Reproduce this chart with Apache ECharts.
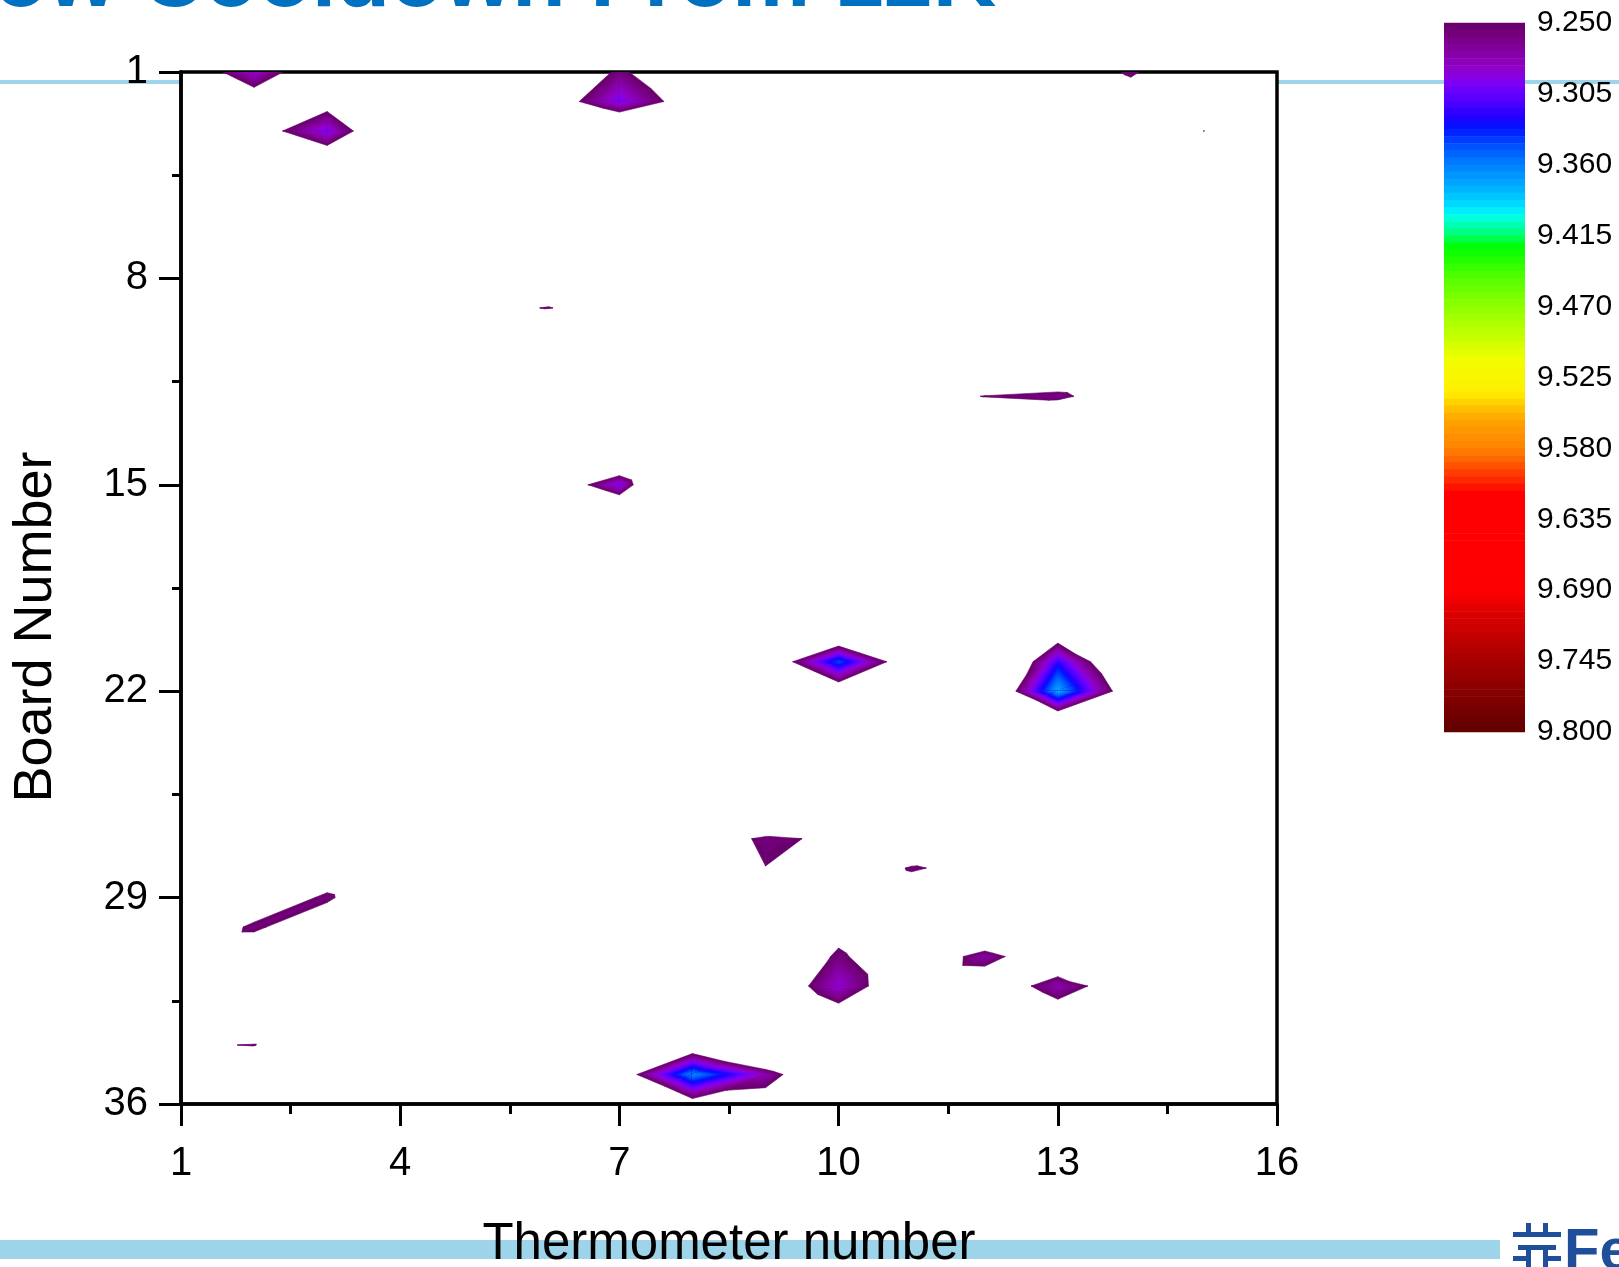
<!DOCTYPE html>
<html>
<head>
<meta charset="utf-8">
<script src="https://cdn.jsdelivr.net/npm/echarts@6/dist/echarts.min.js"></script>
<style>
  html, body { margin: 0; padding: 0; background: #ffffff; }
  #chart { width: 1619px; height: 1267px; }
</style>
</head>
<body>
<div id="chart"></div>
<script>
// Thermometer positions along each board, and board numbers.
const thermometers = [1, 2, 3, 4, 5, 6, 7, 8, 9, 10, 11, 12, 13, 14, 15, 16];
const boards = [1, 2, 3, 4, 5, 6, 7, 8, 9, 10, 11, 12, 13, 14, 15, 16, 17, 18,
                19, 20, 21, 22, 23, 24, 25, 26, 27, 28, 29, 30, 31, 32, 33, 34, 35, 36];

// Temperature (K) per board (rows) and thermometer (columns).
const temperature = [
  [9.196, 9.290, 9.189, 9.210, 9.200, 9.169, 9.260, 9.185, 9.210, 9.200, 9.220, 9.210, 9.217, 9.255, 9.210, 9.200],
  [9.119, 9.213, 9.224, 9.085, 9.190, 9.209, 9.300, 9.218, 9.200, 9.210, 9.190, 9.200, 9.200, 9.227, 9.210, 9.190],
  [9.210, 9.218, 9.300, 9.161, 9.200, 9.078, 9.161, 9.200, 9.190, 9.210, 9.200, 9.190, 9.210, 9.200, 9.2502, 9.200],
  [9.200, 9.116, 9.198, 9.210, 9.190, 9.200, 9.210, 9.200, 9.190, 9.200, 9.210, 9.200, 9.190, 9.200, 9.210, 9.200],
  [9.190, 9.200, 9.210, 9.200, 9.200, 9.190, 9.200, 9.210, 9.200, 9.190, 9.200, 9.210, 9.200, 9.190, 9.200, 9.210],
  [9.200, 9.210, 9.190, 9.200, 9.210, 9.200, 9.190, 9.200, 9.210, 9.200, 9.190, 9.200, 9.210, 9.200, 9.190, 9.200],
  [9.210, 9.200, 9.200, 9.190, 9.200, 9.210, 9.200, 9.190, 9.200, 9.210, 9.200, 9.190, 9.200, 9.210, 9.200, 9.190],
  [9.200, 9.190, 9.210, 9.200, 9.190, 9.200, 9.210, 9.200, 9.190, 9.200, 9.210, 9.200, 9.190, 9.200, 9.210, 9.200],
  [9.190, 9.200, 9.200, 9.210, 9.235, 9.2515, 9.235, 9.210, 9.200, 9.190, 9.200, 9.210, 9.200, 9.190, 9.200, 9.210],
  [9.200, 9.210, 9.190, 9.200, 9.200, 9.200, 9.190, 9.200, 9.210, 9.200, 9.190, 9.200, 9.210, 9.200, 9.190, 9.200],
  [9.210, 9.200, 9.200, 9.190, 9.210, 9.200, 9.200, 9.190, 9.200, 9.210, 9.200, 9.150, 9.165, 9.150, 9.200, 9.190],
  [9.200, 9.190, 9.210, 9.200, 9.190, 9.200, 9.210, 9.200, 9.190, 9.200, 9.219, 9.252, 9.265, 9.197, 9.210, 9.200],
  [9.190, 9.200, 9.200, 9.210, 9.200, 9.190, 9.200, 9.210, 9.200, 9.190, 9.150, 9.150, 9.140, 9.190, 9.200, 9.210],
  [9.200, 9.210, 9.190, 9.200, 9.210, 9.200, 9.139, 9.000, 9.190, 9.200, 9.210, 9.200, 9.190, 9.200, 9.210, 9.200],
  [9.210, 9.200, 9.200, 9.190, 9.200, 9.184, 9.300, 9.037, 9.200, 9.210, 9.200, 9.190, 9.200, 9.210, 9.200, 9.190],
  [9.200, 9.190, 9.210, 9.200, 9.190, 9.037, 9.153, 9.200, 9.210, 9.200, 9.190, 9.200, 9.210, 9.200, 9.190, 9.200],
  [9.190, 9.200, 9.200, 9.210, 9.200, 9.190, 9.200, 9.210, 9.200, 9.190, 9.200, 9.210, 9.200, 9.190, 9.200, 9.210],
  [9.200, 9.210, 9.190, 9.200, 9.210, 9.200, 9.190, 9.200, 9.210, 9.200, 9.190, 9.200, 9.210, 9.200, 9.190, 9.200],
  [9.210, 9.200, 9.200, 9.190, 9.200, 9.210, 9.200, 9.190, 9.200, 9.210, 9.200, 9.190, 9.200, 9.210, 9.200, 9.190],
  [9.200, 9.190, 9.210, 9.200, 9.190, 9.200, 9.210, 9.200, 9.190, 9.166, 9.022, 9.200, 9.209, 9.040, 9.210, 9.200],
  [9.190, 9.200, 9.200, 9.210, 9.200, 9.190, 9.200, 9.210, 9.194, 9.345, 9.201, 9.114, 9.320, 9.164, 9.200, 9.210],
  [9.200, 9.210, 9.190, 9.200, 9.210, 9.200, 9.190, 9.200, 9.056, 9.207, 9.190, 9.155, 9.378, 9.207, 9.190, 9.200],
  [9.210, 9.200, 9.200, 9.190, 9.200, 9.210, 9.200, 9.190, 9.200, 9.210, 9.200, 8.950, 9.187, 9.190, 9.200, 9.190],
  [9.200, 9.190, 9.210, 9.200, 9.190, 9.200, 9.210, 9.200, 9.190, 9.200, 9.210, 9.200, 9.190, 9.200, 9.210, 9.200],
  [9.190, 9.200, 9.200, 9.210, 9.200, 9.190, 9.200, 9.210, 9.200, 9.190, 9.200, 9.210, 9.200, 9.190, 9.200, 9.210],
  [9.200, 9.210, 9.190, 9.200, 9.210, 9.200, 9.190, 9.200, 9.090, 9.100, 9.190, 9.200, 9.210, 9.200, 9.190, 9.200],
  [9.210, 9.200, 9.200, 9.190, 9.200, 9.210, 9.200, 9.199, 9.262, 9.238, 9.180, 9.190, 9.200, 9.210, 9.200, 9.190],
  [9.200, 9.190, 9.210, 9.180, 9.190, 9.200, 9.210, 9.186, 9.2491, 9.199, 9.255, 9.230, 9.190, 9.200, 9.210, 9.200],
  [9.190, 9.210, 9.258, 9.185, 9.200, 9.190, 9.200, 9.210, 9.200, 9.190, 9.215, 9.210, 9.200, 9.190, 9.200, 9.210],
  [9.205, 9.258, 9.210, 9.200, 9.210, 9.200, 9.190, 9.200, 9.210, 9.2255, 9.170, 9.143, 9.060, 9.200, 9.190, 9.200],
  [9.210, 9.210, 9.200, 9.190, 9.200, 9.210, 9.200, 9.190, 9.170, 9.260, 9.190, 9.275, 9.186, 9.090, 9.200, 9.190],
  [9.200, 9.190, 9.210, 9.200, 9.190, 9.200, 9.210, 9.200, 9.193, 9.290, 9.192, 9.198, 9.280, 9.207, 9.210, 9.200],
  [9.190, 9.200, 9.200, 9.210, 9.200, 9.190, 9.200, 9.210, 9.150, 9.221, 9.200, 9.136, 9.213, 9.190, 9.200, 9.210],
  [9.245, 9.2515, 9.200, 9.200, 9.210, 9.200, 9.190, 9.203, 9.106, 9.000, 9.190, 9.200, 9.210, 9.200, 9.190, 9.200],
  [9.200, 9.200, 9.190, 9.210, 9.200, 9.190, 9.214, 9.365, 9.280, 9.155, 9.200, 9.210, 9.200, 9.190, 9.200, 9.210],
  [9.210, 9.190, 9.200, 9.200, 9.190, 9.200, 9.069, 9.224, 9.213, 9.200, 9.210, 9.200, 9.190, 9.200, 9.210, 9.200]
];

// Axis ticks.
const thermometerTicks = [1, 4, 7, 10, 13, 16];
const boardTicks = [1, 8, 15, 22, 29, 36];
const colorScaleTicks = [9.250, 9.305, 9.360, 9.415, 9.470, 9.525, 9.580, 9.635, 9.690, 9.745, 9.800];

// Rainbow palette anchors (temperature -> colour).
const paletteValues = [9.250, 9.262, 9.275, 9.286, 9.295, 9.303, 9.313, 9.323, 9.332, 9.343, 9.356,
                       9.368, 9.383, 9.395, 9.400, 9.413, 9.424, 9.452, 9.478, 9.500, 9.510, 9.537,
                       9.545, 9.558, 9.581, 9.594, 9.607, 9.614, 9.690, 9.711, 9.750, 9.800];
const paletteColors = ['#660066', '#780084', '#8800aa', '#9000cc', '#8400ee', '#6a00ff', '#4a00ff',
                       '#2200ff', '#0014ff', '#0046ff', '#0074ff', '#0094ff', '#00c0ff', '#00eaff',
                       '#00ffe8', '#00ff80', '#00ff00', '#60ff00', '#a0ff00', '#d4ff00', '#f0ff00',
                       '#ffee00', '#ffd000', '#ffa400', '#ff8000', '#ff5000', '#ff2200', '#ff0000',
                       '#ff0000', '#d80000', '#a00000', '#600000'];

const scaleMin = 9.25;
const scaleMax = 9.80;
const levelCount = 100;
const levelStep = (scaleMax - scaleMin) / levelCount;
const levels = Array.from({ length: levelCount }, (_, k) => scaleMin + k * levelStep);

const FONT = '"Liberation Sans", Arial, Helvetica, sans-serif';

function hexToRgb(h) {
  return [parseInt(h.slice(1, 3), 16), parseInt(h.slice(3, 5), 16), parseInt(h.slice(5, 7), 16)];
}
const paletteRgb = paletteColors.map(hexToRgb);

function colorAt(v) {
  if (v <= paletteValues[0]) return paletteColors[0];
  const last = paletteValues.length - 1;
  if (v >= paletteValues[last]) return paletteColors[last];
  let i = 0;
  while (paletteValues[i + 1] < v) i++;
  const f = (v - paletteValues[i]) / (paletteValues[i + 1] - paletteValues[i]);
  const a = paletteRgb[i], b = paletteRgb[i + 1];
  const c = a.map((x, j) => Math.round(x + f * (b[j] - x)));
  return 'rgb(' + c.join(',') + ')';
}
const levelColors = levels.map(lo => colorAt(lo + levelStep / 2));

// Part of a triangle (points carry [x, y, value]) where value >= level.
function clipAbove(poly, level) {
  const out = [];
  for (let i = 0; i < poly.length; i++) {
    const a = poly[i], b = poly[(i + 1) % poly.length];
    const ina = a[2] >= level, inb = b[2] >= level;
    if (ina) out.push(a);
    if (ina !== inb) {
      const f = (level - a[2]) / (b[2] - a[2]);
      out.push([a[0] + f * (b[0] - a[0]), a[1] + f * (b[1] - a[1]), level]);
    }
  }
  return out;
}

function tempAt(t, b) {
  return temperature[boards.indexOf(b)][thermometers.indexOf(t)];
}

// One data item per grid cell: corner nodes [t0, b0, t1, b1].
const cells = [];
for (let bi = 0; bi < boards.length - 1; bi++) {
  for (let ti = 0; ti < thermometers.length - 1; ti++) {
    cells.push([thermometers[ti], boards[bi], thermometers[ti + 1], boards[bi + 1]]);
  }
}

function renderCell(params, api) {
  const t0 = api.value(0), b0 = api.value(1), t1 = api.value(2), b1 = api.value(3);
  const p = (t, b) => [t, b, tempAt(t, b)];
  // Each cell is split along its lower-left to upper-right diagonal.
  const triangles = [
    [p(t0, b0), p(t1, b0), p(t0, b1)],
    [p(t1, b0), p(t1, b1), p(t0, b1)]
  ];
  const children = [];
  triangles.forEach(tri => {
    const vmax = Math.max(tri[0][2], tri[1][2], tri[2][2]);
    for (let k = 0; k < levelCount; k++) {
      if (levels[k] > vmax) break;
      const poly = clipAbove(tri, levels[k]);
      if (poly.length < 3) continue;
      const color = levelColors[k];
      children.push({
        type: 'polygon',
        shape: { points: poly.map(q => api.coord([q[0], q[1]])) },
        style: { fill: color, stroke: color, lineWidth: 0.6 }
      });
    }
  });
  return { type: 'group', children };
}

// Colour scale bands: [dummy x, lower value, upper value].
const scaleBands = levels.map(lo => [0, lo, lo + levelStep]);

function renderBand(params, api) {
  const a = api.coord([0, api.value(1)]);
  const b = api.coord([1, api.value(2)]);
  const y = Math.min(a[1], b[1]);
  return {
    type: 'rect',
    shape: { x: a[0], y: y - 0.3, width: b[0] - a[0], height: Math.abs(b[1] - a[1]) + 0.6 },
    style: { fill: levelColors[params.dataIndex] }
  };
}

const chart = echarts.init(document.getElementById('chart'), null, { renderer: 'canvas' });

const tickStyle = { color: '#000', width: 3 };

chart.setOption({
  animation: false,
  backgroundColor: '#ffffff',
  grid: [
    { left: 181, top: 72, width: 1096, height: 1032, show: true,
      borderColor: '#000', borderWidth: 3.5, backgroundColor: 'transparent' },
    { left: 1444, top: 23, width: 81, height: 709, show: false }
  ],
  xAxis: [
    {
      gridIndex: 0, type: 'value', min: thermometerTicks[0], max: thermometerTicks[thermometerTicks.length - 1],
      interval: thermometerTicks[1] - thermometerTicks[0],
      axisLine: { show: true, lineStyle: { color: '#000', width: 3.5 } },
      axisTick: { show: true, inside: false, length: 22, lineStyle: tickStyle },
      minorTick: { show: true, splitNumber: 2, length: 10, lineStyle: tickStyle },
      axisLabel: { fontSize: 40, color: '#000', fontFamily: FONT, margin: 40 },
      splitLine: { show: false }
    },
    { gridIndex: 1, type: 'value', min: 0, max: 1, show: false }
  ],
  yAxis: [
    {
      gridIndex: 0, type: 'value', inverse: true, min: boardTicks[0], max: boardTicks[boardTicks.length - 1],
      interval: boardTicks[1] - boardTicks[0],
      axisLine: { show: true, lineStyle: { color: '#000', width: 3.5 } },
      axisTick: { show: true, inside: false, length: 22, lineStyle: tickStyle },
      minorTick: { show: true, splitNumber: 2, length: 9, lineStyle: tickStyle },
      axisLabel: { fontSize: 40, color: '#000', fontFamily: FONT, margin: 33, padding: [4, 0, 0, 0] },
      splitLine: { show: false }
    },
    {
      gridIndex: 1, type: 'value', inverse: true, position: 'right',
      min: colorScaleTicks[0], max: colorScaleTicks[colorScaleTicks.length - 1],
      interval: colorScaleTicks[1] - colorScaleTicks[0],
      axisLine: { show: false }, axisTick: { show: false }, splitLine: { show: false },
      axisLabel: { fontSize: 30, color: '#000', fontFamily: FONT, margin: 12,
                   padding: [4, 0, 0, 0], formatter: v => v.toFixed(3) }
    }
  ],
  graphic: [
    // Slide decoration behind the chart.
    { type: 'rect', z: -5, shape: { x: 0, y: 80, width: 181, height: 4 }, style: { fill: '#9ed5ea' } },
    { type: 'rect', z: -5, shape: { x: 1277, y: 80, width: 167, height: 4 }, style: { fill: '#9ed5ea' } },
    { type: 'rect', z: -5, shape: { x: 1525, y: 80, width: 94, height: 4 }, style: { fill: '#9ed5ea' } },
    { type: 'rect', z: -5, shape: { x: 0, y: 1240, width: 1500, height: 19 }, style: { fill: '#9dd4ea' } },
    { type: 'text', z: -5, x: -6, y: -18,
      style: { text: 'ow Cooldown From 12K', fill: '#0070c0', fontSize: 88, fontWeight: 'bold',
               fontFamily: FONT, align: 'left', verticalAlign: 'middle' } },
    // Lab logo at the lower right corner.
    { type: 'group', z: -5, children: [
      { type: 'rect', shape: { x: 1526, y: 1223, width: 5, height: 9 }, style: { fill: '#1f4e9a' } },
      { type: 'rect', shape: { x: 1543, y: 1223, width: 5, height: 9 }, style: { fill: '#1f4e9a' } },
      { type: 'rect', shape: { x: 1513, y: 1232, width: 48, height: 5 }, style: { fill: '#1f4e9a' } },
      { type: 'rect', shape: { x: 1518, y: 1245, width: 38, height: 5 }, style: { fill: '#1f4e9a' } },
      { type: 'rect', shape: { x: 1526, y: 1245, width: 5, height: 22 }, style: { fill: '#1f4e9a' } },
      { type: 'rect', shape: { x: 1543, y: 1245, width: 5, height: 22 }, style: { fill: '#1f4e9a' } },
      { type: 'rect', shape: { x: 1513, y: 1256, width: 18, height: 5 }, style: { fill: '#1f4e9a' } },
      { type: 'rect', shape: { x: 1543, y: 1256, width: 18, height: 5 }, style: { fill: '#1f4e9a' } }
    ] },
    { type: 'text', z: -5, x: 1564, y: 1253,
      style: { text: 'Fermilab', fill: '#1f4e9a', fontSize: 58, fontWeight: 'bold',
               fontFamily: FONT, align: 'left', verticalAlign: 'middle' } },
    // Axis titles.
    { type: 'text', z: 10, x: 729, y: 1245,
      style: { text: 'Thermometer number', fill: '#000', fontSize: 51, fontFamily: FONT,
               align: 'center', verticalAlign: 'middle' } },
    { type: 'text', z: 10, x: 36, y: 627, rotation: Math.PI / 2,
      style: { text: 'Board Number', fill: '#000', fontSize: 54, fontFamily: FONT,
               align: 'center', verticalAlign: 'middle' } }
  ],
  series: [
    {
      type: 'custom',
      xAxisIndex: 0, yAxisIndex: 0,
      clip: true,
      data: cells,
      encode: { x: [0, 2], y: [1, 3] },
      renderItem: renderCell,
      silent: true
    },
    {
      type: 'custom',
      xAxisIndex: 1, yAxisIndex: 1,
      data: scaleBands,
      encode: { x: 0, y: [1, 2] },
      renderItem: renderBand,
      silent: true
    }
  ]
});
</script>
</body>
</html>
